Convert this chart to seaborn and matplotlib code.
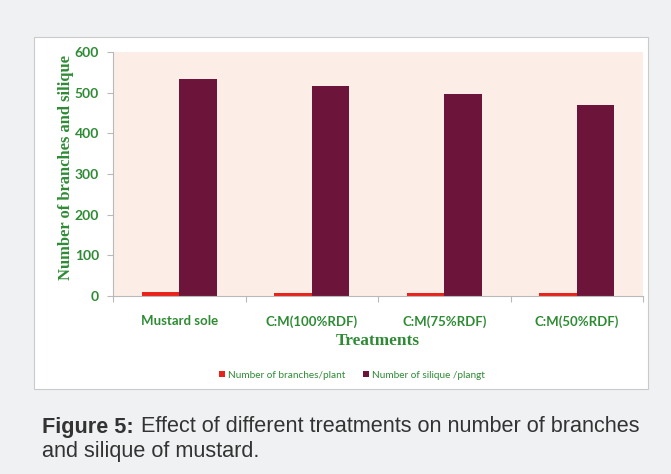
import numpy as np
import pandas as pd
import matplotlib
matplotlib.use("Agg")
import matplotlib.pyplot as plt
from matplotlib.patches import Rectangle
from matplotlib.ticker import FixedLocator
import seaborn as sns

# Treatment categories and measured values
treatments = ["Mustard sole", "C:M(100%RDF)", "C:M(75%RDF)", "C:M(50%RDF)"]
branches_per_plant = [9.0, 7.6, 7.0, 6.6]
silique_per_plant = [533, 517, 496, 470]
series_names = ["Number of branches/plant", "Number of silique /plangt"]
y_ticks = [0, 100, 200, 300, 400, 500, 600]

df = pd.DataFrame({
    "Treatment": treatments * 2,
    "Series": [series_names[0]] * 4 + [series_names[1]] * 4,
    "Value": branches_per_plant + silique_per_plant,
})

sns.set_theme(style="white")
plt.rcParams["font.family"] = ["Lato", "DejaVu Sans"]

GREEN = "#2e8b34"
palette = {series_names[0]: "#e8231c", series_names[1]: "#6d143b"}

fig = plt.figure(figsize=(6.71, 4.74), dpi=100)
fig.patch.set_facecolor("#f0f1f3")

# white chart panel with a thin grey frame
W, H = 671, 474
panel = Rectangle((34 / W, (H - 389) / H), (648 - 34) / W, (389 - 37) / H,
                  transform=fig.transFigure, facecolor="white",
                  edgecolor="#c9cacc", linewidth=0.8, zorder=-5)
fig.patches.append(panel)

ax = fig.add_axes([113 / W, (H - 296) / H, (643 - 113) / W, (296 - 52) / H])
ax.set_zorder(1)
ax.set_facecolor("#fcede7")

sns.barplot(data=df, x="Treatment", y="Value", hue="Series", order=treatments,
            hue_order=series_names, palette=palette, width=0.566, gap=0,
            saturation=1, linewidth=0, ax=ax, legend=True)

ax.set_ylim(0, 600)
ax.set_xlim(-0.5, 3.5)
ax.set_yticks(y_ticks)
ax.set_yticklabels([str(t) for t in y_ticks], fontsize=10, fontweight="bold",
                   color=GREEN)
ax.set_xticks(range(len(treatments)))
ax.set_xticklabels(treatments, fontsize=9.5, fontweight="bold", color=GREEN)
ax.xaxis.set_minor_locator(FixedLocator([-0.5, 0.5, 1.5, 2.5, 3.5]))
ax.tick_params(axis="x", which="major", length=0, pad=14)
ax.tick_params(axis="x", which="minor", length=4, color="#b9b9b9", width=0.8,
               bottom=True)
ax.tick_params(axis="y", length=4, color="#b9b9b9", width=0.8, left=True, pad=6)

for side in ["top", "right"]:
    ax.spines[side].set_visible(False)
for side in ["left", "bottom"]:
    ax.spines[side].set_color("#b9b9b9")
    ax.spines[side].set_linewidth(0.8)

ax.set_ylabel("Number of branches and silique", fontsize=11.9,
              fontweight="bold", color=GREEN, family="Liberation Serif")
ax.yaxis.set_label_coords(-0.073, 0.527)
ax.set_xlabel("Treatments", fontsize=12.4, fontweight="bold", color=GREEN,
              family="Liberation Serif", labelpad=3.5)

leg = ax.legend(loc="center", bbox_to_anchor=(352 / W, (H - 375) / H),
                bbox_transform=fig.transFigure, ncol=2, frameon=False,
                fontsize=7.2, handlelength=0.55, handleheight=0.55,
                handletextpad=0.3, columnspacing=1.8)
for t in leg.get_texts():
    t.set_color(GREEN)

# caption below the chart panel
cap_size = 15.6
head = fig.text(42 / W, (H - 427) / H, "Figure 5:", fontsize=cap_size,
                fontweight="bold", color="#333333", family="Liberation Sans",
                va="center")
plt.annotate("Effect of different treatments on number of branches",
             xy=(1, 0.5), xycoords=head, xytext=(5, 0),
             textcoords="offset points", fontsize=cap_size, color="#333333",
             family="Liberation Sans", va="center", ha="left",
             annotation_clip=False)
fig.text(42 / W, (H - 452) / H, "and silique of mustard.", fontsize=cap_size,
         color="#333333", family="Liberation Sans", va="center")

fig.savefig("out.png", dpi=100, facecolor=fig.get_facecolor())
